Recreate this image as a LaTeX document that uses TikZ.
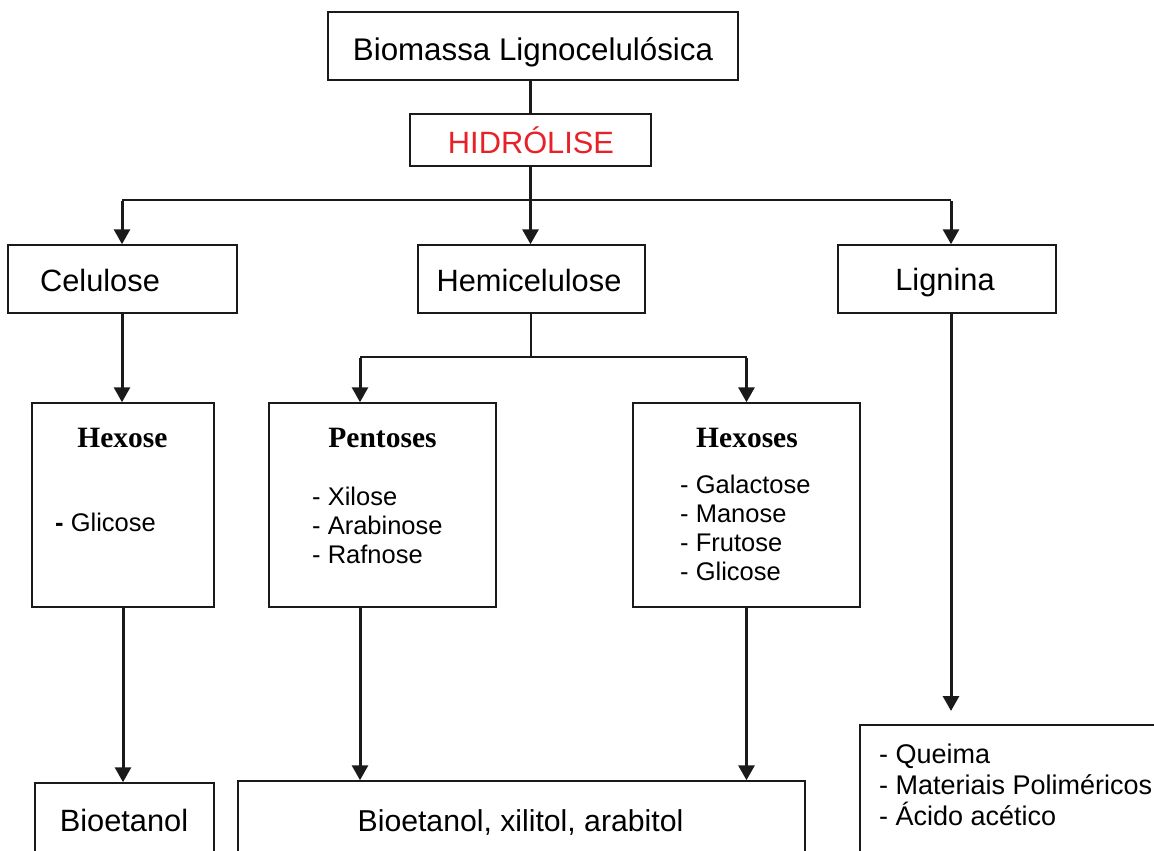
\documentclass[tikz,border=0pt]{standalone}
\usepackage{fontspec}
\setmainfont{Liberation Sans}
\newfontfamily\serifb{Liberation Serif}
\usetikzlibrary{arrows.meta}
\definecolor{hred}{RGB}{232,32,40}
\definecolor{ink}{RGB}{26,26,26}
\begin{document}
\begin{tikzpicture}[x=1pt,y=-1pt]
\tikzset{
 box/.style={draw=ink,line width=1.5pt,inner sep=0pt,fill=white},
 lbl/.style={inner sep=0pt,anchor=base,font=\fontsize{30.8}{36}\selectfont},
 ttl/.style={inner sep=0pt,anchor=base,font=\serifb\bfseries\fontsize{29.5}{34}\selectfont},
 item/.style={inner sep=0pt,anchor=base west,font=\fontsize{25.5}{30}\selectfont},
 litem/.style={inner sep=0pt,anchor=base west,font=\fontsize{27}{31}\selectfont},
 conn/.style={line width=3pt,draw=ink},
 thinconn/.style={line width=1.5pt,draw=ink},
 arr/.style={conn,-{Triangle[length=15pt,width=16pt]}},
}
\useasboundingbox (0,0) rectangle (1154,851);
\fill[white] (0,0) rectangle (1154,851);
\clip (0,0) rectangle (1154,851);

% boxes
\node[box,minimum width=410pt,minimum height=68pt] (bio) at (533,46) {};
\node[box,minimum width=241pt,minimum height=52pt] (hid) at (530.5,140) {};
\node[box,minimum width=229pt,minimum height=68pt] (cel) at (122.5,279) {};
\node[box,minimum width=227pt,minimum height=68pt] (hem) at (531.5,279) {};
\node[box,minimum width=218pt,minimum height=68pt] (lig) at (947,279) {};
\node[box,minimum width=182pt,minimum height=204pt] (hx) at (123,505) {};
\node[box,minimum width=227pt,minimum height=204pt] (pen) at (382.5,505) {};
\node[box,minimum width=227pt,minimum height=204pt] (hxs) at (746.5,505) {};
\node[box,minimum width=179pt,minimum height=100pt] (bet) at (124.5,833) {};
\node[box,minimum width=567pt,minimum height=100pt] (big) at (521.5,831) {};
\node[box,minimum width=320pt,minimum height=160pt] (lbox) at (1020,805) {};

% texts
\node[lbl,font=\fontsize{31.3}{36}\selectfont] (tbio) at (533,60) {Biomassa Lignocelulósica};
\node[lbl,text=hred] (thid) at (531,153) {HIDRÓLISE};
\node[lbl] (tcel) at (100,291) {Celulose};
\node[lbl] (them) at (529,291) {Hemicelulose};
\node[lbl] (tlig) at (945,290) {Lignina};

\node[ttl] (thx) at (122.5,447) {Hexose};
\node[item] (hx1) at (55,531) {\textbf{-} Glicose};

\node[ttl] (tpen) at (382.5,447) {Pentoses};
\node[item] (p1) at (312,505) {- Xilose};
\node[item] (p2) at (312,534) {- Arabinose};
\node[item] (p3) at (312,563) {- Rafnose};

\node[ttl] (thxs) at (747,447) {Hexoses};
\node[item] (h1) at (680,493) {- Galactose};
\node[item] (h2) at (680,522) {- Manose};
\node[item] (h3) at (680,551) {- Frutose};
\node[item] (h4) at (680,580) {- Glicose};

\node[lbl] (tbet) at (124,831) {Bioetanol};
\node[lbl,font=\fontsize{30.2}{36}\selectfont] (tbig) at (520.5,831) {Bioetanol, xilitol, arabitol};

\node[litem] (l1) at (879,763) {- Queima};
\node[litem] (l2) at (879,794) {- Materiais Poliméricos};
\node[litem] (l3) at (879,825) {- Ácido acético};

% connectors
\coordinate (hub) at (530.5,200);
\coordinate (hsplit) at (531,357);
\coordinate (ligend) at (951,711);
\coordinate (pentop) at ([xshift=-22.5pt]pen.north);
\coordinate (penbot) at ([xshift=-22.5pt]pen.south);
\coordinate (celtop) at ([xshift=-0.5pt]cel.north);
\coordinate (celbot) at ([xshift=-0.5pt]cel.south);
\coordinate (ligtop) at ([xshift=4pt]lig.north);
\coordinate (ligbot) at ([xshift=4pt]lig.south);

\draw[conn] (bio.south -| hid.north) -- (hid.north);
\draw[thinconn] (celtop |- hub) -- (ligtop |- hub);
\draw[conn] (hid.south) -- (hub);
\draw[arr] (hub) -- (hem.north -| hub);
\draw[arr] ([yshift=-0.75pt]celtop |- hub) -- (celtop);
\draw[arr] ([yshift=-0.75pt]ligtop |- hub) -- (ligtop);

\draw[thinconn] (hem.south -| hsplit) -- (hsplit);
\draw[thinconn] (pentop |- hsplit) -- (hxs.north |- hsplit);
\draw[arr] ([yshift=-0.75pt]pentop |- hsplit) -- (pentop);
\draw[arr] ([yshift=-0.75pt]hxs.north |- hsplit) -- (hxs.north);

\draw[arr] (celbot) -- (celbot |- hx.north);
\draw[arr] (hx.south) -- (hx.south |- bet.north);
\draw[arr] (penbot) -- (penbot |- big.north);
\draw[arr] (hxs.south) -- (hxs.south |- big.north);
\draw[arr] (ligbot) -- (ligend);
\end{tikzpicture}
\end{document}
